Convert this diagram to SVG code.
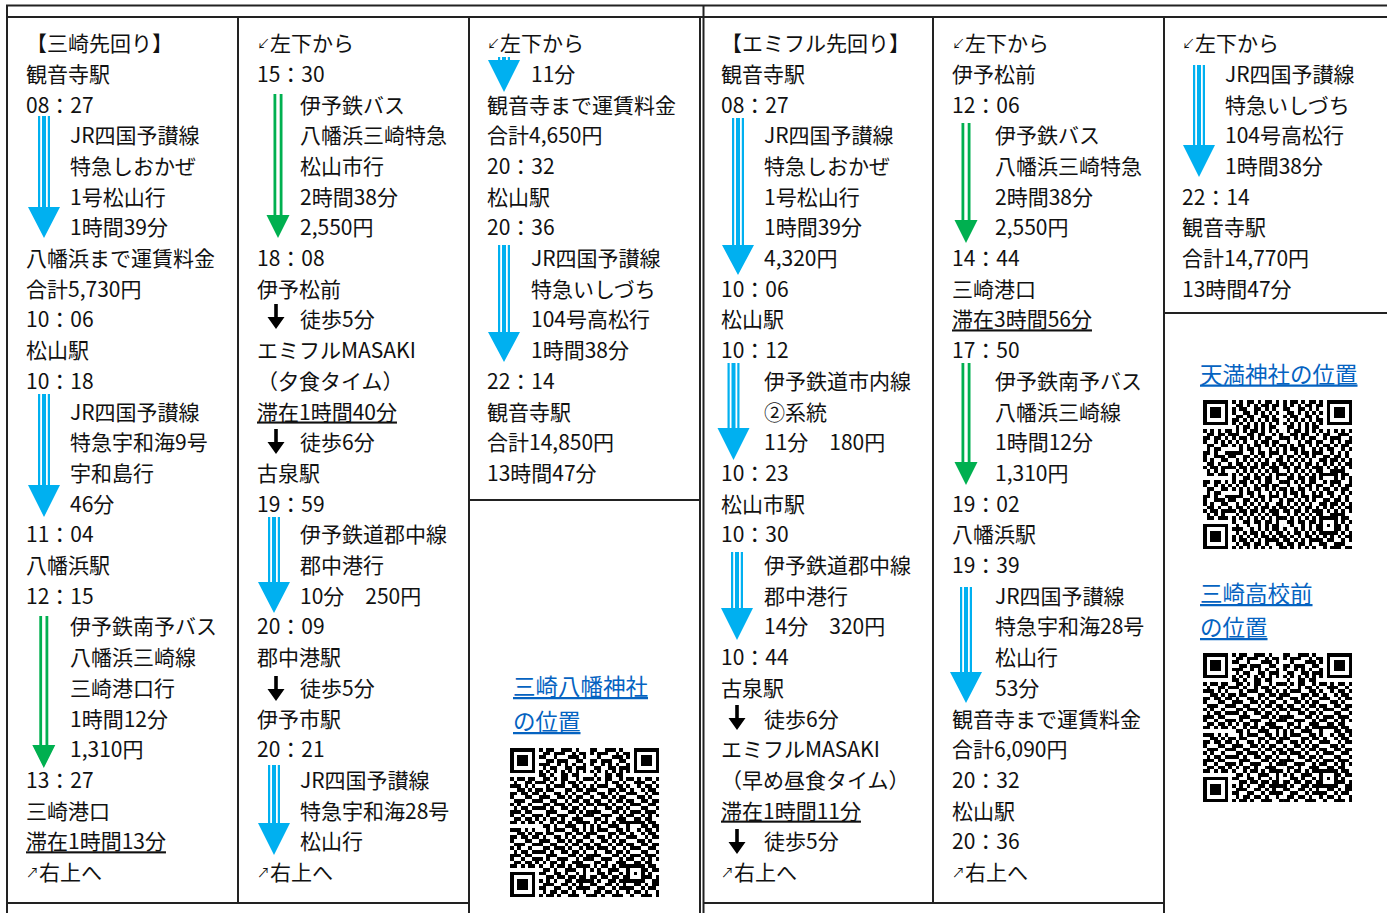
<svg xmlns="http://www.w3.org/2000/svg" xmlns:xlink="http://www.w3.org/1999/xlink" width="1387" height="913" viewBox="0 0 1387 913">
<style>
text { font-family: "Noto Sans CJK JP", "Noto Sans", sans-serif; font-size: 21px; fill: #111; }
.sm { font-size: 13px; }
.u { text-decoration: underline; }
.lk { fill: #0563C1; font-size: 22.5px; text-decoration: underline; }
.ln { fill: none; stroke: #222; stroke-width: 2; }
.b { fill: #00B0F0; }
.g { fill: #00B050; }
.k { fill: #000; }
.qr { fill: #000; shape-rendering: crispEdges; }
</style>
<defs>
<path id="q29" d="M0 0h7v1h-7zM8 0h1v1h-1zM10 0h2v1h-2zM14 0h3v1h-3zM18 0h1v1h-1zM22 0h7v1h-7zM0 1h1v1h-1zM6 1h1v1h-1zM9 1h2v1h-2zM12 1h3v1h-3zM17 1h1v1h-1zM19 1h2v1h-2zM22 1h1v1h-1zM28 1h1v1h-1zM0 2h1v1h-1zM2 2h3v1h-3zM6 2h1v1h-1zM8 2h2v1h-2zM12 2h1v1h-1zM16 2h3v1h-3zM20 2h1v1h-1zM22 2h1v1h-1zM24 2h3v1h-3zM28 2h1v1h-1zM0 3h1v1h-1zM2 3h3v1h-3zM6 3h1v1h-1zM10 3h2v1h-2zM13 3h3v1h-3zM18 3h2v1h-2zM22 3h1v1h-1zM24 3h3v1h-3zM28 3h1v1h-1zM0 4h1v1h-1zM2 4h3v1h-3zM6 4h1v1h-1zM8 4h3v1h-3zM13 4h1v1h-1zM15 4h1v1h-1zM17 4h1v1h-1zM20 4h1v1h-1zM22 4h1v1h-1zM24 4h3v1h-3zM28 4h1v1h-1zM0 5h1v1h-1zM6 5h1v1h-1zM9 5h1v1h-1zM11 5h2v1h-2zM15 5h2v1h-2zM18 5h3v1h-3zM22 5h1v1h-1zM28 5h1v1h-1zM0 6h7v1h-7zM8 6h1v1h-1zM10 6h1v1h-1zM12 6h1v1h-1zM14 6h1v1h-1zM16 6h1v1h-1zM18 6h1v1h-1zM20 6h1v1h-1zM22 6h7v1h-7zM8 7h2v1h-2zM11 7h1v1h-1zM14 7h2v1h-2zM17 7h2v1h-2zM0 8h1v1h-1zM2 8h2v1h-2zM5 8h2v1h-2zM9 8h2v1h-2zM12 8h1v1h-1zM14 8h2v1h-2zM18 8h1v1h-1zM20 8h2v1h-2zM23 8h1v1h-1zM25 8h2v1h-2zM28 8h1v1h-1zM1 9h1v1h-1zM4 9h2v1h-2zM7 9h3v1h-3zM11 9h1v1h-1zM14 9h1v1h-1zM16 9h2v1h-2zM19 9h1v1h-1zM22 9h3v1h-3zM27 9h1v1h-1zM0 10h3v1h-3zM4 10h1v1h-1zM6 10h1v1h-1zM10 10h1v1h-1zM12 10h3v1h-3zM17 10h2v1h-2zM20 10h1v1h-1zM23 10h1v1h-1zM25 10h2v1h-2zM28 10h1v1h-1zM2 11h2v1h-2zM5 11h1v1h-1zM7 11h2v1h-2zM10 11h2v1h-2zM15 11h2v1h-2zM18 11h2v1h-2zM21 11h1v1h-1zM24 11h1v1h-1zM26 11h2v1h-2zM0 12h2v1h-2zM3 12h2v1h-2zM6 12h2v1h-2zM9 12h1v1h-1zM12 12h2v1h-2zM15 12h1v1h-1zM17 12h1v1h-1zM20 12h3v1h-3zM25 12h1v1h-1zM27 12h2v1h-2zM0 13h1v1h-1zM4 13h2v1h-2zM8 13h3v1h-3zM13 13h2v1h-2zM16 13h1v1h-1zM18 13h2v1h-2zM23 13h2v1h-2zM26 13h1v1h-1zM1 14h3v1h-3zM6 14h3v1h-3zM11 14h2v1h-2zM15 14h1v1h-1zM17 14h2v1h-2zM20 14h2v1h-2zM24 14h2v1h-2zM27 14h2v1h-2zM0 15h1v1h-1zM2 15h1v1h-1zM5 15h1v1h-1zM9 15h2v1h-2zM12 15h3v1h-3zM16 15h1v1h-1zM19 15h1v1h-1zM21 15h3v1h-3zM26 15h2v1h-2zM1 16h1v1h-1zM3 16h2v1h-2zM6 16h4v1h-4zM11 16h1v1h-1zM14 16h2v1h-2zM17 16h2v1h-2zM20 16h1v1h-1zM24 16h2v1h-2zM28 16h1v1h-1zM0 17h3v1h-3zM4 17h2v1h-2zM10 17h3v1h-3zM16 17h2v1h-2zM19 17h1v1h-1zM21 17h3v1h-3zM25 17h3v1h-3zM0 18h1v1h-1zM3 18h1v1h-1zM6 18h3v1h-3zM10 18h1v1h-1zM13 18h3v1h-3zM18 18h1v1h-1zM20 18h2v1h-2zM24 18h1v1h-1zM26 18h1v1h-1zM28 18h1v1h-1zM1 19h2v1h-2zM4 19h2v1h-2zM7 19h1v1h-1zM9 19h1v1h-1zM11 19h2v1h-2zM14 19h1v1h-1zM17 19h3v1h-3zM22 19h2v1h-2zM25 19h2v1h-2zM0 20h2v1h-2zM3 20h1v1h-1zM5 20h2v1h-2zM8 20h1v1h-1zM11 20h1v1h-1zM13 20h2v1h-2zM16 20h1v1h-1zM18 20h7v1h-7zM26 20h2v1h-2zM9 21h2v1h-2zM12 21h1v1h-1zM15 21h3v1h-3zM20 21h1v1h-1zM24 21h2v1h-2zM27 21h2v1h-2zM0 22h7v1h-7zM8 22h2v1h-2zM12 22h2v1h-2zM15 22h1v1h-1zM18 22h1v1h-1zM20 22h1v1h-1zM22 22h1v1h-1zM24 22h1v1h-1zM26 22h1v1h-1zM0 23h1v1h-1zM6 23h1v1h-1zM10 23h2v1h-2zM13 23h2v1h-2zM16 23h2v1h-2zM19 23h2v1h-2zM24 23h3v1h-3zM28 23h1v1h-1zM0 24h1v1h-1zM2 24h3v1h-3zM6 24h1v1h-1zM8 24h1v1h-1zM10 24h1v1h-1zM12 24h1v1h-1zM15 24h2v1h-2zM18 24h7v1h-7zM27 24h2v1h-2zM0 25h1v1h-1zM2 25h3v1h-3zM6 25h1v1h-1zM9 25h3v1h-3zM14 25h2v1h-2zM17 25h1v1h-1zM19 25h1v1h-1zM22 25h2v1h-2zM25 25h1v1h-1zM27 25h2v1h-2zM0 26h1v1h-1zM2 26h3v1h-3zM6 26h1v1h-1zM8 26h2v1h-2zM12 26h2v1h-2zM16 26h1v1h-1zM18 26h4v1h-4zM24 26h1v1h-1zM26 26h2v1h-2zM0 27h1v1h-1zM6 27h1v1h-1zM9 27h1v1h-1zM11 27h2v1h-2zM14 27h2v1h-2zM17 27h1v1h-1zM20 27h1v1h-1zM22 27h2v1h-2zM25 27h1v1h-1zM28 27h1v1h-1zM0 28h7v1h-7zM8 28h1v1h-1zM10 28h2v1h-2zM13 28h1v1h-1zM16 28h3v1h-3zM21 28h1v1h-1zM24 28h3v1h-3zM28 28h1v1h-1z"/>
<clipPath id="cA"><rect x="0" y="0" width="22" height="22"/></clipPath>
<clipPath id="cB"><rect x="22" y="0" width="19" height="22"/></clipPath>
<clipPath id="cC"><rect x="0" y="22" width="22" height="19"/></clipPath>
<clipPath id="cD"><rect x="22" y="22" width="19" height="19"/></clipPath>
<g id="q41" class="qr">
<g clip-path="url(#cA)"><use href="#q29"/></g>
<g clip-path="url(#cB)"><use href="#q29" transform="translate(12,0)"/></g>
<g clip-path="url(#cC)"><use href="#q29" transform="translate(0,12)"/></g>
<g clip-path="url(#cD)"><use href="#q29" transform="translate(12,12)"/></g>
</g>
<path id="wk" d="M-1.8 -14h3.6v13.5h-3.6zM-8.5 -1h17L0 11z"/>
</defs>
<rect x="0" y="0" width="1387" height="913" fill="#fff"/>

<g id="grid">
<path class="ln" d="M6 5.5H1387" stroke-width="2.5"/>
<path class="ln" d="M7 17H1387M7 5V913M238 17V903M469 17V913M700 17V913M703.5 5V913M933 17V903M1164 17V913M469 500H700M1164 313H1387M7 903H469M703 903H1164"/>
</g>

<g id="connectors">
<path class="b" d="M38 116h2.2v92h-2.2zM42 116h4v92h-4zM47.8 116h2.2v92h-2.2zM28 207h32L44 238z"/>
<path class="b" d="M38 394h2.2v92h-2.2zM42 394h4v92h-4zM47.8 394h2.2v92h-2.2zM28 485h32L44 517z"/>
<path class="g" d="M39.3 616h2.8v130h-2.8zM45.5 616h2.8v130h-2.8zM32.3 745h23L43.8 768z"/>
<path class="g" d="M273.5 94h2.8v122h-2.8zM279.7 94h2.8v122h-2.8zM266.5 215h23L278 238z"/>
<use class="k" href="#wk" x="276" y="318"/>
<use class="k" href="#wk" x="276" y="443"/>
<path class="b" d="M268 517h2.2v66h-2.2zM272 517h4v66h-4zM277.8 517h2.2v66h-2.2zM258 582h32L274 613z"/>
<use class="k" href="#wk" x="276" y="690"/>
<path class="b" d="M268 765h2.2v59h-2.2zM272 765h4v59h-4zM277.8 765h2.2v59h-2.2zM258 823h32L274 855z"/>
<path class="b" d="M498 57h2.2v4h-2.2zM502 57h4v4h-4zM507.8 57h2.2v4h-2.2zM488 60h32L504 92z"/>
<path class="b" d="M498 245h2.2v88h-2.2zM502 245h4v88h-4zM507.8 245h2.2v88h-2.2zM488 332h32L504 362z"/>
<path class="b" d="M732 118h2.2v128h-2.2zM736 118h4v128h-4zM741.8 118h2.2v128h-2.2zM722 245h32L738 275z"/>
<path class="b" d="M727.5 363h2.2v66h-2.2zM731.5 363h4v66h-4zM737.3 363h2.2v66h-2.2zM717.5 428h32L733.5 460z"/>
<path class="b" d="M731 552h2.2v57h-2.2zM735 552h4v57h-4zM740.8 552h2.2v57h-2.2zM721 608h32L737 640z"/>
<use class="k" href="#wk" x="737" y="719"/>
<use class="k" href="#wk" x="737" y="843"/>
<path class="g" d="M961.5 123h2.8v98h-2.8zM967.7 123h2.8v98h-2.8zM954.5 220h23L966 243z"/>
<path class="g" d="M961.5 363h2.8v100h-2.8zM967.7 363h2.8v100h-2.8zM954.5 462h23L966 485z"/>
<path class="b" d="M960 587h2.2v86h-2.2zM964 587h4v86h-4zM969.8 587h2.2v86h-2.2zM950 672h32L966 703z"/>
<path class="b" d="M1193 65h2.2v81h-2.2zM1197 65h4v81h-4zM1202.8 65h2.2v81h-2.2zM1183 145h32L1199 177z"/>
</g>

<g id="col1">
<text>
<tspan x="26" y="51.1">【三崎先回り】</tspan>
<tspan x="26" y="81.8">観音寺駅</tspan>
<tspan x="26" y="112.5">08：27</tspan>
<tspan x="70" y="143.2">JR四国予讃線</tspan>
<tspan x="70" y="173.9">特急しおかぜ</tspan>
<tspan x="70" y="204.6">1号松山行</tspan>
<tspan x="70" y="235.3">1時間39分</tspan>
<tspan x="26" y="266">八幡浜まで運賃料金</tspan>
<tspan x="26" y="296.7">合計5,730円</tspan>
<tspan x="26" y="327.4">10：06</tspan>
<tspan x="26" y="358.1">松山駅</tspan>
<tspan x="26" y="388.8">10：18</tspan>
<tspan x="70" y="419.5">JR四国予讃線</tspan>
<tspan x="70" y="450.2">特急宇和海9号</tspan>
<tspan x="70" y="480.9">宇和島行</tspan>
<tspan x="70" y="511.6">46分</tspan>
<tspan x="26" y="542.3">11：04</tspan>
<tspan x="26" y="573">八幡浜駅</tspan>
<tspan x="26" y="603.7">12：15</tspan>
<tspan x="70" y="634.4">伊予鉄南予バス</tspan>
<tspan x="70" y="665.1">八幡浜三崎線</tspan>
<tspan x="70" y="695.8">三崎港口行</tspan>
<tspan x="70" y="726.5">1時間12分</tspan>
<tspan x="70" y="757.2">1,310円</tspan>
<tspan x="26" y="787.9">13：27</tspan>
<tspan x="26" y="818.6">三崎港口</tspan>
</text>
<text class="u" x="26" y="849.3">滞在1時間13分</text>
<text><tspan class="sm" x="26" y="876.5">↗</tspan><tspan y="880">右上へ</tspan></text>
</g>

<g id="col2">
<text>
<tspan class="sm" x="257" y="47.5">↙</tspan><tspan y="51.1">左下から</tspan>
<tspan x="257" y="81.8">15：30</tspan>
<tspan x="300" y="112.5">伊予鉄バス</tspan>
<tspan x="300" y="143.2">八幡浜三崎特急</tspan>
<tspan x="300" y="173.9">松山市行</tspan>
<tspan x="300" y="204.6">2時間38分</tspan>
<tspan x="300" y="235.3">2,550円</tspan>
<tspan x="257" y="266">18：08</tspan>
<tspan x="257" y="296.7">伊予松前</tspan>
<tspan x="300" y="327.4">徒歩5分</tspan>
<tspan x="257" y="358.1">エミフルMASAKI</tspan>
<tspan x="257" y="388.8">（夕食タイム）</tspan>
<tspan x="300" y="450.2">徒歩6分</tspan>
<tspan x="257" y="480.9">古泉駅</tspan>
<tspan x="257" y="511.6">19：59</tspan>
<tspan x="300" y="542.3">伊予鉄道郡中線</tspan>
<tspan x="300" y="573">郡中港行</tspan>
<tspan x="300" y="603.7">10分　250円</tspan>
<tspan x="257" y="634.4">20：09</tspan>
<tspan x="257" y="665.1">郡中港駅</tspan>
<tspan x="300" y="695.8">徒歩5分</tspan>
<tspan x="257" y="726.5">伊予市駅</tspan>
<tspan x="257" y="757.2">20：21</tspan>
<tspan x="300" y="787.9">JR四国予讃線</tspan>
<tspan x="300" y="818.6">特急宇和海28号</tspan>
<tspan x="300" y="849.3">松山行</tspan>
</text>
<text class="u" x="257" y="419.5">滞在1時間40分</text>
<text><tspan class="sm" x="257" y="876.5">↗</tspan><tspan y="880">右上へ</tspan></text>
</g>

<g id="col3">
<text>
<tspan class="sm" x="487" y="47.5">↙</tspan><tspan y="51.1">左下から</tspan>
<tspan x="531" y="81.8">11分</tspan>
<tspan x="487" y="112.5">観音寺まで運賃料金</tspan>
<tspan x="487" y="143.2">合計4,650円</tspan>
<tspan x="487" y="173.9">20：32</tspan>
<tspan x="487" y="204.6">松山駅</tspan>
<tspan x="487" y="235.3">20：36</tspan>
<tspan x="531" y="266">JR四国予讃線</tspan>
<tspan x="531" y="296.7">特急いしづち</tspan>
<tspan x="531" y="327.4">104号高松行</tspan>
<tspan x="531" y="358.1">1時間38分</tspan>
<tspan x="487" y="388.8">22：14</tspan>
<tspan x="487" y="419.5">観音寺駅</tspan>
<tspan x="487" y="450.2">合計14,850円</tspan>
<tspan x="487" y="480.9">13時間47分</tspan>
</text>
</g>

<g id="link-hachiman">
<text class="lk" x="513" y="695">三崎八幡神社</text>
<text class="lk" x="513" y="730">の位置</text>
<use href="#q41" transform="translate(510,748) scale(3.64)"/>
</g>

<g id="col4">
<text>
<tspan x="721" y="51.1">【エミフル先回り】</tspan>
<tspan x="721" y="81.8">観音寺駅</tspan>
<tspan x="721" y="112.5">08：27</tspan>
<tspan x="764" y="143.2">JR四国予讃線</tspan>
<tspan x="764" y="173.9">特急しおかぜ</tspan>
<tspan x="764" y="204.6">1号松山行</tspan>
<tspan x="764" y="235.3">1時間39分</tspan>
<tspan x="764" y="266">4,320円</tspan>
<tspan x="721" y="296.7">10：06</tspan>
<tspan x="721" y="327.4">松山駅</tspan>
<tspan x="721" y="358.1">10：12</tspan>
<tspan x="764" y="388.8">伊予鉄道市内線</tspan>
<tspan x="764" y="419.5">②系統</tspan>
<tspan x="764" y="450.2">11分　180円</tspan>
<tspan x="721" y="480.9">10：23</tspan>
<tspan x="721" y="511.6">松山市駅</tspan>
<tspan x="721" y="542.3">10：30</tspan>
<tspan x="764" y="573">伊予鉄道郡中線</tspan>
<tspan x="764" y="603.7">郡中港行</tspan>
<tspan x="764" y="634.4">14分　320円</tspan>
<tspan x="721" y="665.1">10：44</tspan>
<tspan x="721" y="695.8">古泉駅</tspan>
<tspan x="764" y="726.5">徒歩6分</tspan>
<tspan x="721" y="757.2">エミフルMASAKI</tspan>
<tspan x="721" y="787.9">（早め昼食タイム）</tspan>
<tspan x="764" y="849.3">徒歩5分</tspan>
</text>
<text class="u" x="721" y="818.6">滞在1時間11分</text>
<text><tspan class="sm" x="721" y="876.5">↗</tspan><tspan y="880">右上へ</tspan></text>
</g>

<g id="col5">
<text>
<tspan class="sm" x="952" y="47.5">↙</tspan><tspan y="51.1">左下から</tspan>
<tspan x="952" y="81.8">伊予松前</tspan>
<tspan x="952" y="112.5">12：06</tspan>
<tspan x="995" y="143.2">伊予鉄バス</tspan>
<tspan x="995" y="173.9">八幡浜三崎特急</tspan>
<tspan x="995" y="204.6">2時間38分</tspan>
<tspan x="995" y="235.3">2,550円</tspan>
<tspan x="952" y="266">14：44</tspan>
<tspan x="952" y="296.7">三崎港口</tspan>
<tspan x="952" y="358.1">17：50</tspan>
<tspan x="995" y="388.8">伊予鉄南予バス</tspan>
<tspan x="995" y="419.5">八幡浜三崎線</tspan>
<tspan x="995" y="450.2">1時間12分</tspan>
<tspan x="995" y="480.9">1,310円</tspan>
<tspan x="952" y="511.6">19：02</tspan>
<tspan x="952" y="542.3">八幡浜駅</tspan>
<tspan x="952" y="573">19：39</tspan>
<tspan x="995" y="603.7">JR四国予讃線</tspan>
<tspan x="995" y="634.4">特急宇和海28号</tspan>
<tspan x="995" y="665.1">松山行</tspan>
<tspan x="995" y="695.8">53分</tspan>
<tspan x="952" y="726.5">観音寺まで運賃料金</tspan>
<tspan x="952" y="757.2">合計6,090円</tspan>
<tspan x="952" y="787.9">20：32</tspan>
<tspan x="952" y="818.6">松山駅</tspan>
<tspan x="952" y="849.3">20：36</tspan>
</text>
<text class="u" x="952" y="327.4">滞在3時間56分</text>
<text><tspan class="sm" x="952" y="876.5">↗</tspan><tspan y="880">右上へ</tspan></text>
</g>

<g id="col6">
<text>
<tspan class="sm" x="1182" y="47.5">↙</tspan><tspan y="51.1">左下から</tspan>
<tspan x="1225" y="81.8">JR四国予讃線</tspan>
<tspan x="1225" y="112.5">特急いしづち</tspan>
<tspan x="1225" y="143.2">104号高松行</tspan>
<tspan x="1225" y="173.9">1時間38分</tspan>
<tspan x="1182" y="204.6">22：14</tspan>
<tspan x="1182" y="235.3">観音寺駅</tspan>
<tspan x="1182" y="266">合計14,770円</tspan>
<tspan x="1182" y="296.7">13時間47分</tspan>
</text>
</g>

<g id="link-tenman">
<text class="lk" x="1200" y="382.5">天満神社の位置</text>
<use href="#q41" transform="translate(1203,400) scale(3.64) matrix(0 1 1 0 0 0)"/>
</g>

<g id="link-misaki-hs">
<text class="lk" x="1200" y="602">三崎高校前</text>
<text class="lk" x="1200" y="636">の位置</text>
<use href="#q41" transform="translate(1203,653) scale(3.64)"/>
</g>
</svg>
